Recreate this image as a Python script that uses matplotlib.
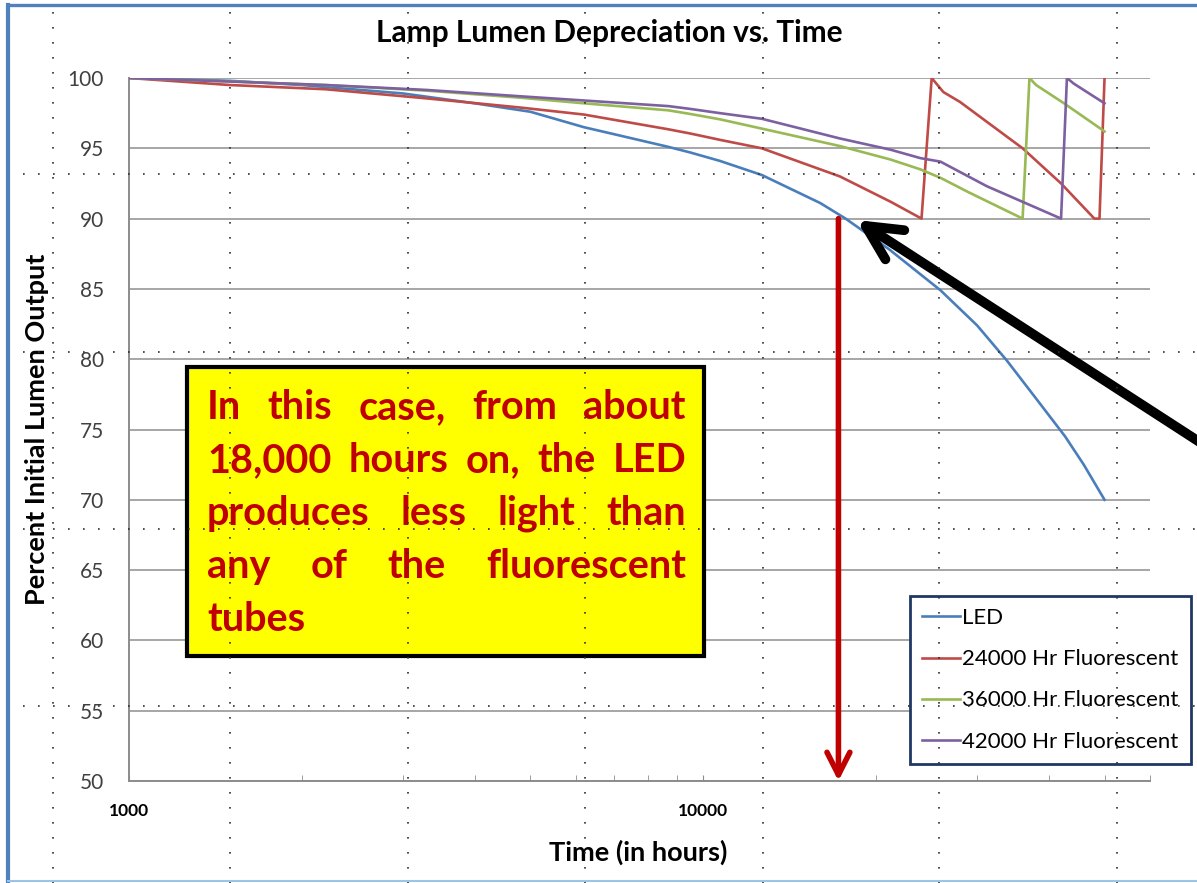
import matplotlib
matplotlib.use('Agg')
import matplotlib.pyplot as plt
from matplotlib.lines import Line2D
from matplotlib.patches import Rectangle
from matplotlib.ticker import FixedLocator, FixedFormatter, NullFormatter

plt.rcParams['font.family'] = ['Lato', 'DejaVu Sans']

W, H = 1197, 883

# Lumen output (% of initial) against operating hours
led_hours = [1000, 1500, 2000, 3000, 4000, 5000, 6200, 7000, 8700, 9500, 10700,
             12650, 16000, 17700, 21100, 25900, 30000, 33800, 38000, 42700, 46000, 50000]
led_pct = [100, 99.8, 99.5, 98.9, 98.2, 97.6, 96.5, 96.0, 95.1, 94.7, 94.1,
           93.1, 91.1, 90.0, 87.8, 84.9, 82.4, 79.9, 77.2, 74.5, 72.5, 70.0]

f24_hours = [1000, 1500, 2200, 3300, 4800, 6200, 8700, 9500, 10700, 12650, 17300,
             21200, 24000, 25000, 26200, 28000, 36000, 42000, 48000, 49000, 50000]
f24_pct = [100, 99.5, 99.2, 98.55, 97.9, 97.4, 96.35, 96.05, 95.6, 95.0, 93.0,
           91.2, 90.0, 100, 99.0, 98.3, 95.0, 92.5, 90.0, 90.0, 100]

f36_hours = [1000, 1500, 2200, 3300, 4800, 6200, 8700, 9500, 10700, 12650, 17300,
             21200, 23900, 25900, 28900, 36000, 37000, 38000, 42500, 50000]
f36_pct = [100, 99.75, 99.5, 99.1, 98.6, 98.2, 97.7, 97.44, 97.06, 96.4, 95.16,
           94.2, 93.5, 92.9, 91.9, 90.0, 100, 99.5, 98.2, 96.2]

f42_hours = [1000, 1500, 2200, 3300, 4800, 6200, 8700, 9500, 10700, 12650, 17300,
             21200, 23900, 25900, 31200, 42000, 43000, 44200, 50000]
f42_pct = [100, 99.75, 99.5, 99.15, 98.7, 98.4, 98.0, 97.8, 97.5, 97.1, 95.7,
           94.9, 94.3, 94.05, 92.3, 90.0, 100, 99.6, 98.2]

series_names = ['LED', '24000 Hr Fluorescent', '36000 Hr Fluorescent', '42000 Hr Fluorescent']
series_colors = ['#4A7EBB', '#BE4B48', '#98B954', '#7D60A0']

y_ticks = [50, 55, 60, 65, 70, 75, 80, 85, 90, 95, 100]
x_major = [1000, 10000]
x_minor = [2000, 3000, 4000, 5000, 6000, 7000, 8000, 9000,
           20000, 30000, 40000, 50000, 60000]

crossover_hours = 17200
note_lines = ['In this case, from about', '18,000 hours on, the LED',
              'produces less light than', 'any of the fluorescent', 'tubes']


def fx(px):
    return px / W


def fy(py):
    return 1 - py / H


fig = plt.figure(figsize=(W / 100, H / 100), dpi=100)
ax = fig.add_axes([fx(129), fy(781), fx(1150) - fx(129), fy(78) - fy(781)])

data = [(led_hours, led_pct), (f24_hours, f24_pct), (f36_hours, f36_pct), (f42_hours, f42_pct)]
for (hrs, pct), name, col in zip(data, series_names, series_colors):
    ax.plot(hrs, pct, color=col, lw=1.9, label=name, zorder=3)

ax.set_xscale('log')
ax.set_xlim(1000, 60000)
ax.set_ylim(50, 100)
ax.xaxis.set_major_locator(FixedLocator(x_major))
ax.xaxis.set_major_formatter(FixedFormatter([str(v) for v in x_major]))
ax.xaxis.set_minor_locator(FixedLocator(x_minor))
ax.xaxis.set_minor_formatter(NullFormatter())
ax.set_yticks(y_ticks)
ax.grid(True, axis='y', color='#A6A6A6', lw=1.4)
ax.set_axisbelow(True)
for s in ['top', 'right']:
    ax.spines[s].set_visible(False)
for s in ['left', 'bottom']:
    ax.spines[s].set_color('#8C8C8C')
    ax.spines[s].set_linewidth(1.4)
ax.tick_params(axis='y', length=0, pad=18, labelsize=15, labelcolor='#404040')
ax.tick_params(axis='x', which='both', direction='in', length=4, color='#8C8C8C',
               pad=16, labelsize=12.5)
for t in ax.get_xticklabels():
    t.set_fontweight('bold')

fig.text(fx(609), fy(33), 'Lamp Lumen Depreciation vs. Time', fontsize=21.5,
         fontweight='bold', ha='center', va='center')
fig.text(fx(638), fy(852), 'Time (in hours)', fontsize=19.5,
         fontweight='bold', ha='center', va='center')
fig.text(fx(37), fy(429), 'Percent Initial Lumen Output', fontsize=19.5,
         fontweight='bold', ha='center', va='center', rotation=90)

leg = ax.legend(loc='upper left', bbox_to_anchor=(fx(910), fy(596)),
                bbox_transform=fig.transFigure, borderaxespad=0, fancybox=False,
                fontsize=16, handlelength=1.7, handletextpad=0.1, labelspacing=0.95,
                borderpad=0.55, framealpha=1)
leg.get_frame().set_edgecolor('#1F3864')
leg.get_frame().set_linewidth(2)
leg.set_zorder(5)

# red drop line from the LED crossing down to the axis
ax.annotate('', xy=(crossover_hours, 50), xytext=(crossover_hours, 90),
            arrowprops=dict(arrowstyle='->,head_length=0.65,head_width=0.33',
                            lw=4, color='#C00000', mutation_scale=25,
                            shrinkA=0, shrinkB=0), zorder=4)

# black pointer arrow coming in from the right edge
ax.annotate('', xy=(18500, 89.9), xytext=(fx(1215), fy(452)),
            textcoords='figure fraction', annotation_clip=False,
            arrowprops=dict(arrowstyle='->,head_length=1.0,head_width=0.5',
                            lw=7, color='black', mutation_scale=25,
                            shrinkA=0, shrinkB=0, capstyle='round',
                            joinstyle='round'), zorder=6)

# yellow note box
box = Rectangle((fx(187), fy(656)), fx(704) - fx(187), fy(367) - fy(656),
                transform=fig.transFigure, facecolor='#FFFF00', edgecolor='black',
                lw=3, zorder=7)
fig.add_artist(box)


def justified(lines, left, right, base, step, **kw):
    r = fig.canvas.get_renderer()
    for i, line in enumerate(lines):
        y = fy(base + i * step)
        words = line.split()
        if i == len(lines) - 1 or len(words) == 1:
            fig.text(fx(left), y, line, va='baseline', zorder=8, **kw)
            continue
        arts = [fig.text(0, y, w, va='baseline', zorder=8, **kw) for w in words]
        widths = [a.get_window_extent(r).width for a in arts]
        gap = (right - left - sum(widths)) / (len(words) - 1)
        x = left
        for a, w in zip(arts, widths):
            a.set_x(fx(x))
            x += w + gap


justified(note_lines, 207, 686, 419, 53, fontsize=28.5, fontweight='bold', color='#C00000')

# slide guide dots
for gx in [53, 230, 408, 585, 763, 939, 1117]:
    fig.add_artist(Line2D([fx(gx), fx(gx)], [fy(12), fy(883)], transform=fig.transFigure,
                          color='#303030', lw=1.2, ls=(0, (1, 8)), zorder=20))
for gy in [174, 352, 529, 706]:
    fig.add_artist(Line2D([fx(23), fx(1197)], [fy(gy), fy(gy)], transform=fig.transFigure,
                          color='#303030', lw=1.2, ls=(0, (1, 8)), zorder=20))

# slide frame
fig.add_artist(Line2D([fx(8), fx(1197)], [fy(5), fy(5)], transform=fig.transFigure,
                      color='#4F81BD', lw=2.4, zorder=21))
fig.add_artist(Line2D([fx(8), fx(8)], [fy(5), fy(883)], transform=fig.transFigure,
                      color='#4F81BD', lw=3, zorder=21))
fig.add_artist(Line2D([fx(8), fx(1197)], [fy(881), fy(881)], transform=fig.transFigure,
                      color='#9DC3E6', lw=1.5, zorder=21))

fig.savefig('out.png', dpi=100)
